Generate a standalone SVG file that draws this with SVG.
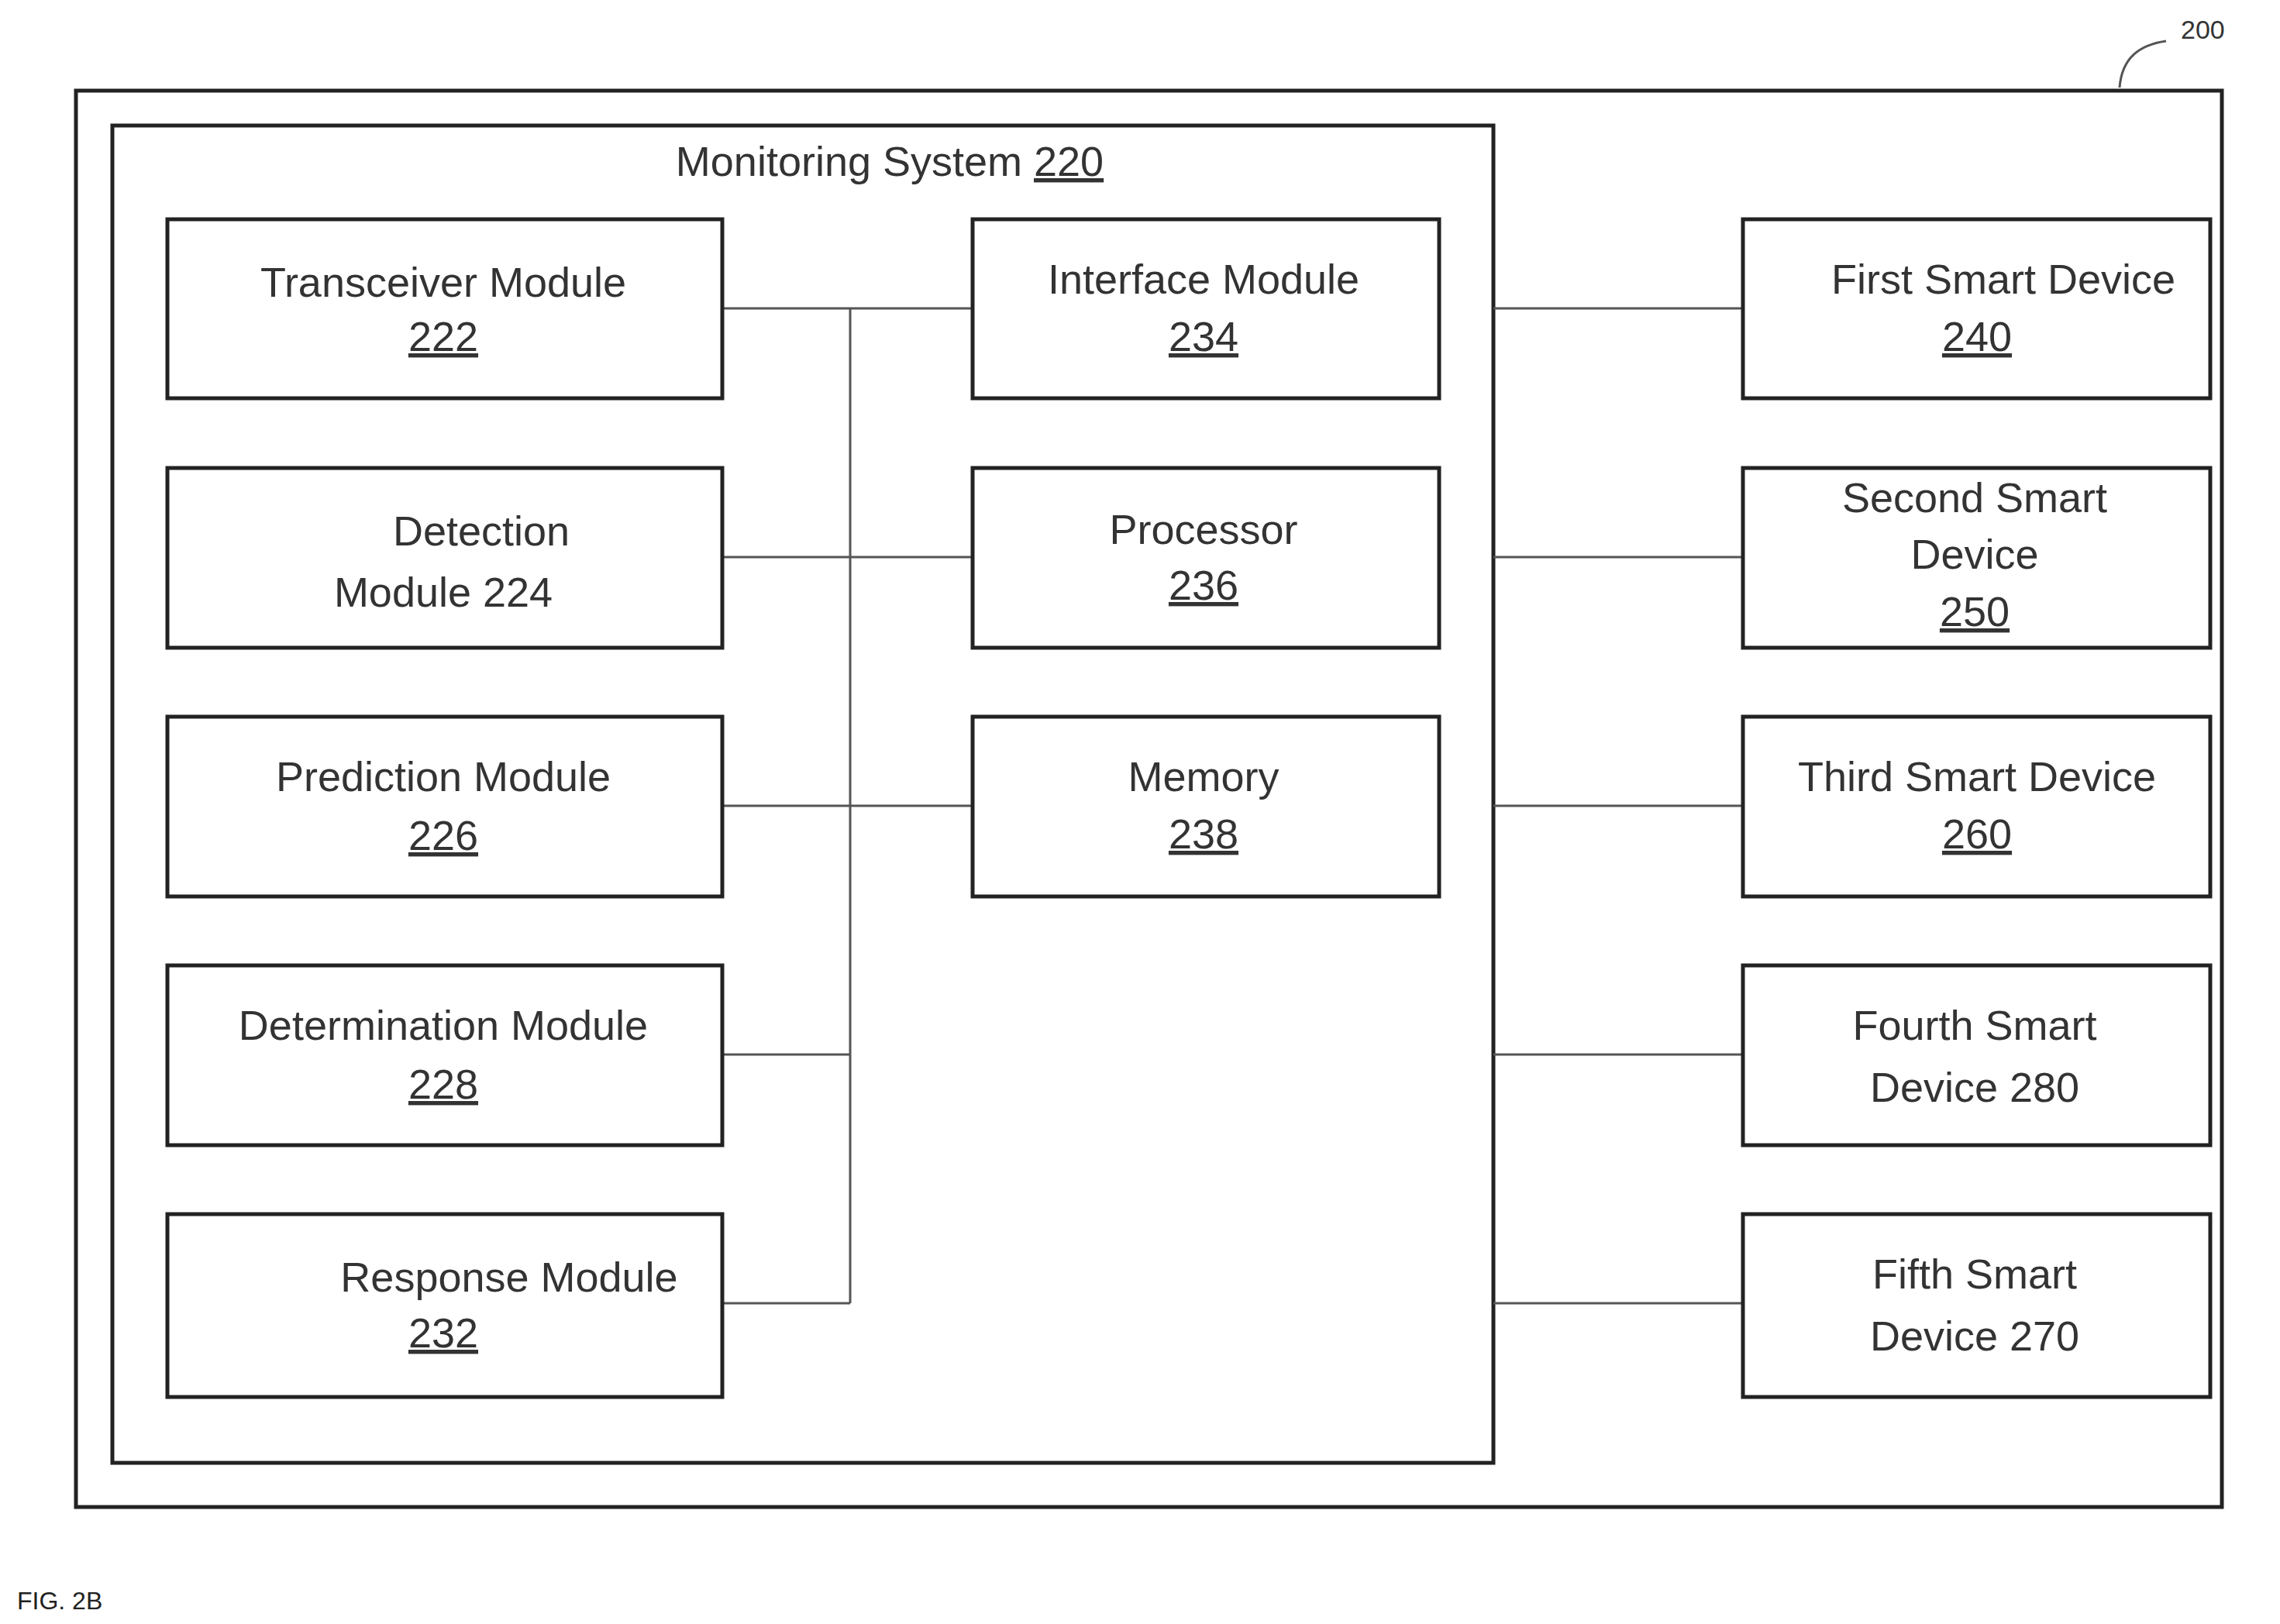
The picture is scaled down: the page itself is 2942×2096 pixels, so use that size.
<svg xmlns="http://www.w3.org/2000/svg" width="2942" height="2096" viewBox="0 0 2942 2096">
<style>
.b{fill:#fff;stroke:#222;stroke-width:5}
.f{fill:none;stroke:#222;stroke-width:5}
.t{font-family:"Liberation Sans",Arial,sans-serif;font-size:54px;fill:#333;text-anchor:middle}
.u{text-decoration:underline}
.c{fill:none;stroke:#555;stroke-width:3}
</style>
<rect width="2942" height="2096" fill="#fff"/>
<g id="system200"><rect class="f" x="98" y="117" width="2769" height="1828"/>
<path class="c" d="M2735,113 C2738,75 2760,58 2795,53"/>
<text x="2814" y="50" font-family="Liberation Sans,sans-serif" font-size="34" fill="#333">200</text></g>
<g id="monitoring"><rect class="f" x="145" y="162" width="1782" height="1726"/>
<text class="t" x="1148" y="227">Monitoring System <tspan class="u">220</tspan></text></g>
<g id="connectors">
<path class="c" d="M1097,398V1682M932,398H1255M932,719H1255M932,1040H1255M932,1361H1097M932,1682H1097"/>
<path class="c" d="M1927,398H2249M1927,719H2249M1927,1040H2249M1927,1361H2249M1927,1682H2249"/>
</g>
<g id="n222"><rect class="b" x="216" y="283" width="716" height="231"/><text class="t" x="572" y="383">Transceiver Module</text><text class="t u" x="572" y="453">222</text></g>
<g id="n224"><rect class="b" x="216" y="604" width="716" height="232"/><text class="t" x="621" y="704">Detection</text><text class="t" x="572" y="783">Module 224</text></g>
<g id="n226"><rect class="b" x="216" y="925" width="716" height="232"/><text class="t" x="572" y="1021">Prediction Module</text><text class="t u" x="572" y="1097">226</text></g>
<g id="n228"><rect class="b" x="216" y="1246" width="716" height="232"/><text class="t" x="572" y="1342">Determination Module</text><text class="t u" x="572" y="1418">228</text></g>
<g id="n232"><rect class="b" x="216" y="1567" width="716" height="236"/><text class="t" x="657" y="1667">Response Module</text><text class="t u" x="572" y="1739">232</text></g>
<g id="n234"><rect class="b" x="1255" y="283" width="602" height="231"/><text class="t" x="1553" y="379">Interface Module</text><text class="t u" x="1553" y="453">234</text></g>
<g id="n236"><rect class="b" x="1255" y="604" width="602" height="232"/><text class="t" x="1553" y="702">Processor</text><text class="t u" x="1553" y="774">236</text></g>
<g id="n238"><rect class="b" x="1255" y="925" width="602" height="232"/><text class="t" x="1553" y="1021">Memory</text><text class="t u" x="1553" y="1095">238</text></g>
<g id="n240"><rect class="b" x="2249" y="283" width="603" height="231"/><text class="t" x="2585" y="379">First Smart Device</text><text class="t u" x="2551" y="453">240</text></g>
<g id="n250"><rect class="b" x="2249" y="604" width="603" height="232"/><text class="t" x="2548" y="661">Second Smart</text><text class="t" x="2548" y="734">Device</text><text class="t u" x="2548" y="808">250</text></g>
<g id="n260"><rect class="b" x="2249" y="925" width="603" height="232"/><text class="t" x="2551" y="1021">Third Smart Device</text><text class="t u" x="2551" y="1095">260</text></g>
<g id="n280"><rect class="b" x="2249" y="1246" width="603" height="232"/><text class="t" x="2548" y="1342">Fourth Smart</text><text class="t" x="2548" y="1422">Device 280</text></g>
<g id="n270"><rect class="b" x="2249" y="1567" width="603" height="236"/><text class="t" x="2548" y="1663">Fifth Smart</text><text class="t" x="2548" y="1743">Device 270</text></g>
<text x="22" y="2077" font-family="Liberation Sans,sans-serif" font-size="32" fill="#222">FIG. 2B</text>
</svg>
